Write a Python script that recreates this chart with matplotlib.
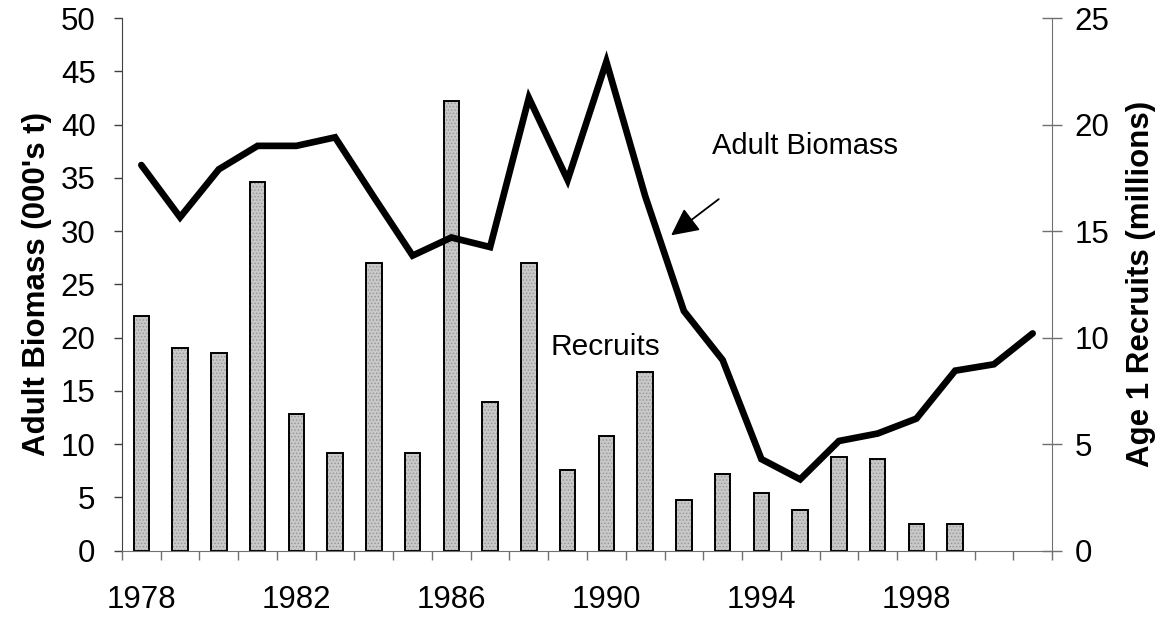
import numpy as np
import matplotlib
matplotlib.use("Agg")
import matplotlib.pyplot as plt

plt.rcParams['font.family'] = ['Liberation Sans', 'DejaVu Sans']
plt.rcParams['hatch.linewidth'] = 0.6

# data
years = list(range(1978, 2002))
biomass = [36.2, 31.3, 35.8, 38.0, 38.0, 38.8, 33.2, 27.7, 29.4, 28.5,
           42.5, 34.8, 45.9, 33.3, 22.5, 17.9, 8.6, 6.7, 10.3, 11.0,
           12.4, 16.9, 17.5, 20.4]
recruit_years = list(range(1978, 2000))
recruits = [11.0, 9.5, 9.3, 17.3, 6.4, 4.6, 13.5, 4.6, 21.1, 7.0,
            13.5, 3.8, 5.4, 8.4, 2.4, 3.6, 2.7, 1.9, 4.4, 4.3,
            1.25, 1.25]
label_years = [1978, 1982, 1986, 1990, 1994, 1998]

x_line = np.arange(len(years))
x_bar = np.array([years.index(y) for y in recruit_years])

fig = plt.figure(figsize=(11.67, 6.19), dpi=100)
ax = fig.add_axes([0.1045, 0.1103, 0.797, 0.8606])
ax2 = ax.twinx()

# recruits bars (right axis), drawn behind the biomass line
ax2.bar(x_bar, recruits, width=0.4, color='#c8c8c8', edgecolor='#969696',
        hatch='.....', linewidth=0, zorder=2)
ax2.bar(x_bar, recruits, width=0.4, fill=False, edgecolor='black',
        linewidth=1.4, zorder=3)

ax.plot(x_line, biomass, color='black', linewidth=4.8, solid_joinstyle='miter',
        solid_capstyle='round', zorder=5)
ax.set_zorder(ax2.get_zorder() + 1)
ax.patch.set_visible(False)

ax.set_xlim(-0.5, len(years) - 0.5)
ax.set_ylim(0, 50)
ax2.set_ylim(0, 25)
ax.set_yticks(np.arange(0, 51, 5))
ax2.set_yticks(np.arange(0, 26, 5))

# category axis: ticks between years, labels every 4 years
ax.set_xticks(np.arange(-0.5, len(years), 1.0))
ax.set_xticklabels([])
ax.set_xticks([years.index(y) for y in label_years], minor=True)
ax.set_xticklabels([str(y) for y in label_years], minor=True)
ax.tick_params(axis='x', which='major', direction='out', length=6.5,
               width=1.0, color='#707070')
ax.tick_params(axis='x', which='minor', length=0, pad=25, labelsize=22.5)
ax.tick_params(axis='y', direction='out', length=6, width=1.0,
               color='#404040', labelsize=22.5, pad=13)
ax2.tick_params(axis='y', direction='inout', length=14, width=1.0,
                color='#707070', labelsize=22.5, pad=9)

for s in ['top', 'right']:
    ax.spines[s].set_visible(False)
ax2.spines['top'].set_visible(False)
ax2.spines['left'].set_visible(False)
ax2.spines['bottom'].set_visible(False)
ax.spines['left'].set_color('#404040')
ax.spines['bottom'].set_color('#707070')
ax2.spines['right'].set_color('#707070')

ax.set_ylabel("Adult Biomass (000's t)", fontsize=22.5, fontweight='bold',
              labelpad=6)
ax2.set_ylabel("Age 1 Recruits (millions)", fontsize=22.5, fontweight='bold',
               rotation=90, labelpad=12)

ax.text(14.73, 38.0, "Adult Biomass", fontsize=21, va='center', ha='left')
ax.text(10.55, 19.15, "Recruits", fontsize=21.5, va='center', ha='left')
ax.annotate("", xy=(13.67, 29.6), xytext=(14.9, 33.0),
            arrowprops=dict(arrowstyle='-|>,head_length=1.2,head_width=0.6',
                            mutation_scale=14, lw=1.3, color='black',
                            shrinkA=0, shrinkB=0))

fig.savefig("out.png", dpi=100)
